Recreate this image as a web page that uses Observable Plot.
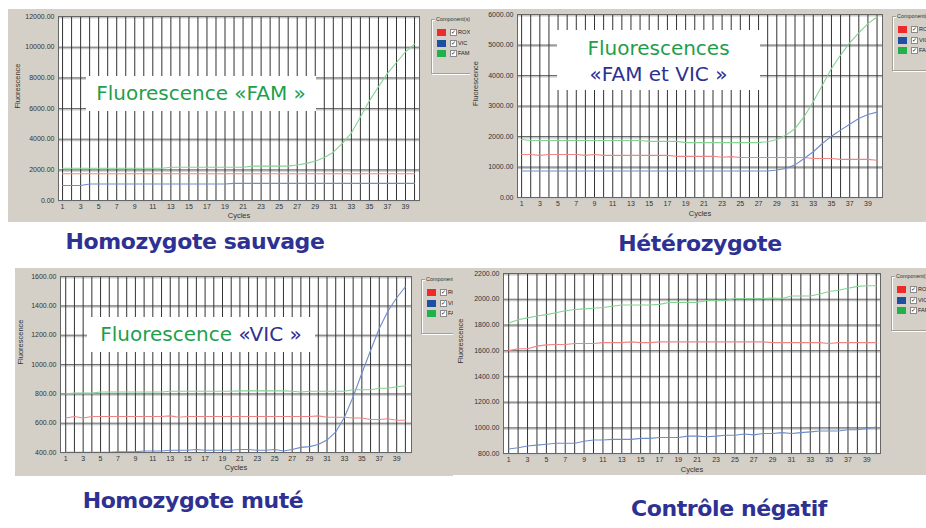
<!DOCTYPE html>
<html>
<head>
<meta charset="utf-8">
<script src="https://cdn.jsdelivr.net/npm/d3@7"></script>
<script src="https://cdn.jsdelivr.net/npm/@observablehq/plot@0.6"></script>
<style>
  html, body { margin: 0; padding: 0; background: #ffffff; }
  body { width: 926px; height: 528px; position: relative; overflow: hidden; }
  .panel { position: absolute; background: #d4d0c8; overflow: hidden; }
  .panel svg { position: absolute; left: 0; top: 0; }
  .legend { position: absolute; width: 54px; height: 53px; border: 1px solid #a3a09a;
            box-shadow: inset 1px 1px 0 #ffffff, 1px 1px 0 #ffffff;
            font-family: "Liberation Sans", Arial, sans-serif; color: #222; }
  .legend .ttl { position: absolute; left: 3px; top: -4px; background: #d4d0c8; padding: 0 1px;
                 font-size: 5.4px; line-height: 7px; white-space: nowrap; color: #333; }
  .legend .row { position: absolute; left: 5px; height: 8px; width: 60px; }
  .legend .sw { position: absolute; left: 0; top: 0; width: 9px; height: 7px; }
  .legend .cb { position: absolute; left: 13px; top: 0; width: 5px; height: 5px; background: #fff;
                border: 1px solid #8a8a8a; font-size: 6px; line-height: 5px; text-align: center; color: #111; }
  .legend .lb { position: absolute; left: 21px; top: 0; font-size: 5.6px; line-height: 7px; white-space: nowrap; }
  .overlay { position: absolute; background: #ffffff; text-align: center;
             font-family: "DejaVu Sans", sans-serif; font-size: 20px; white-space: nowrap; }
  .green { color: #1f9e4b; }
  .blue { color: #2e3192; }
  .caption { position: absolute; font-family: "DejaVu Sans", sans-serif; font-weight: bold;
             font-size: 22px; line-height: 22px; letter-spacing: -0.4px; color: #2e3192;
             white-space: nowrap; transform: translateX(-50%); }
</style>
</head>
<body>
<script>
// ---------- data ----------
const cycles = [1,2,3,4,5,6,7,8,9,10,11,12,13,14,15,16,17,18,19,20,21,22,23,24,25,26,27,28,29,30,31,32,33,34,35,36,37,38,39,40];
const xTicks = [1,3,5,7,9,11,13,15,17,19,21,23,25,27,29,31,33,35,37,39];
const componentNames = ["ROX", "VIC", "FAM"];
const componentSwatches = ["#ee2a2a", "#1f4fa3", "#22b04b"];
const lineColors = { ROX: "#ef8585", VIC: "#6f8dcb", FAM: "#84d393" };

// Panel 1 : Homozygote sauvage
const yTicks1 = [0, 2000, 4000, 6000, 8000, 10000, 12000];
const rox1 = [1740,1740,1740,1740,1740,1740,1740,1740,1740,1740,1740,1740,1740,1740,1740,1740,1740,1740,1740,1740,1740,1740,1740,1740,1740,1740,1740,1740,1740,1740,1740,1740,1740,1740,1740,1740,1740,1740,1740,1740];
const vic1 = [980,980,980,1080,1080,1080,1080,1080,1080,1080,1080,1080,1080,1080,1080,1080,1080,1080,1080,1120,1120,1120,1120,1120,1120,1120,1120,1120,1120,1120,1120,1120,1120,1120,1120,1120,1120,1120,1120,1120];
const fam1 = [2100,2100,2100,2100,2100,2100,2100,2100,2100,2100,2100,2100,2170,2170,2170,2170,2170,2170,2170,2170,2170,2240,2240,2240,2240,2240,2320,2420,2560,2800,3150,3730,4400,5450,6500,7420,8290,9000,9700,10200];

// Panel 2 : Hétérozygote
const yTicks2 = [0, 1000, 2000, 3000, 4000, 5000, 6000];
const rox2 = [1410,1410,1380,1410,1410,1410,1410,1380,1410,1380,1380,1380,1380,1380,1380,1380,1380,1350,1350,1350,1350,1350,1320,1340,1310,1310,1310,1310,1310,1310,1310,1310,1280,1280,1280,1250,1250,1250,1250,1220];
const vic2 = [870,870,870,870,870,870,870,870,870,870,870,870,870,870,870,870,870,870,870,870,870,870,870,870,870,870,870,870,900,950,1070,1280,1500,1770,2010,2210,2400,2590,2720,2800];
const fam2 = [1900,1870,1870,1870,1870,1870,1870,1870,1870,1870,1870,1870,1870,1870,1840,1840,1840,1840,1800,1800,1800,1800,1800,1800,1800,1800,1800,1830,1900,2040,2260,2650,3140,3680,4230,4670,5070,5400,5700,5920];

// Panel 3 : Homozygote muté
const yTicks3 = [400, 600, 800, 1000, 1200, 1400, 1600];
const rox3 = [635,645,635,645,645,645,645,645,645,645,645,645,650,640,645,645,645,645,645,645,645,645,645,645,645,645,645,645,645,650,640,640,640,635,635,625,625,630,620,620];
const vic3 = [402,402,402,402,402,402,405,405,405,410,410,410,415,415,415,420,415,415,415,415,420,420,415,415,420,410,420,435,440,455,485,540,640,780,940,1095,1245,1365,1455,1530];
const fam3 = [800,805,805,805,812,812,812,812,812,812,812,812,818,818,818,818,818,818,818,818,820,820,820,820,820,820,818,812,818,818,818,818,818,828,828,828,838,838,848,855];

// Panel 4 : Contrôle négatif
const yTicks4 = [800, 1000, 1200, 1400, 1600, 1800, 2000, 2200];
const rox4 = [1600,1615,1615,1635,1645,1648,1648,1655,1655,1655,1662,1662,1662,1668,1662,1662,1668,1668,1668,1668,1668,1668,1668,1668,1668,1668,1668,1668,1662,1662,1662,1662,1662,1662,1655,1662,1662,1662,1662,1662];
const vic4 = [835,845,858,865,872,880,880,880,895,905,905,910,910,910,918,918,925,925,925,935,935,930,935,942,942,952,945,955,955,962,955,962,968,975,975,975,985,985,995,1005];
const fam4 = [1815,1840,1855,1870,1880,1895,1910,1920,1925,1930,1935,1945,1955,1955,1955,1955,1960,1975,1975,1975,1975,1990,1990,1990,2005,2005,2005,2005,2010,2005,2025,2025,2025,2040,2060,2070,2085,2100,2105,2105];

// ---------- layout ----------
const panels = [
  { left: 8,   top: 9,   w: 462, h: 213, m: [7, 51, 22, 50], xDomain: [0.55, 40.55], yTicks: yTicks1, series: { ROX: rox1, VIC: vic1, FAM: fam1 }, legend: [423, 10], yLab: -41, xLab: 17 },
  { left: 470, top: 9,   w: 456, h: 213, m: [5, 44, 25, 47], xDomain: [0.55, 40.6],  yTicks: yTicks2, series: { ROX: rox2, VIC: vic2, FAM: fam2 }, legend: [422, 7],  yLab: -42, xLab: 18 },
  { left: 15,  top: 268, w: 438, h: 208, m: [8, 42, 24, 45], xDomain: [0.4, 40.7],   yTicks: yTicks3, series: { ROX: rox3, VIC: vic3, FAM: fam3 }, legend: [406, 11], yLab: -40, xLab: 17 },
  { left: 453, top: 268, w: 473, h: 207, m: [5, 46, 22, 50], xDomain: [0.45, 40.45], yTicks: yTicks4, series: { ROX: rox4, VIC: vic4, FAM: fam4 }, legend: [438, 8],  yLab: -43, xLab: 18 }
];

function makeLegend(x, y) {
  const lg = document.createElement("div");
  lg.className = "legend";
  lg.style.left = x + "px";
  lg.style.top = y + "px";
  const t = document.createElement("div");
  t.className = "ttl";
  t.textContent = "Component(s)";
  lg.appendChild(t);
  componentNames.forEach((name, i) => {
    const r = document.createElement("div");
    r.className = "row";
    r.style.top = (9 + i * 10.7) + "px";
    r.innerHTML = `<span class="sw" style="background:${componentSwatches[i]}"></span><span class="cb">✓</span><span class="lb">${name}</span>`;
    lg.appendChild(r);
  });
  return lg;
}

const font = "'Liberation Sans', Arial, sans-serif";

panels.forEach(p => {
  const div = document.createElement("div");
  div.className = "panel";
  Object.assign(div.style, { left: p.left + "px", top: p.top + "px", width: p.w + "px", height: p.h + "px" });
  const yDomain = [p.yTicks[0], p.yTicks[p.yTicks.length - 1]];
  const lineMarks = componentNames.map(name => {
    const rows = cycles.map((c, i) => ({ cycle: c, value: p.series[name][i] }));
    return Plot.lineY(rows, { x: "cycle", y: "value", stroke: lineColors[name], strokeWidth: 1.1 });
  });
  const chart = Plot.plot({
    width: p.w,
    height: p.h,
    marginTop: p.m[0], marginRight: p.m[1], marginBottom: p.m[2], marginLeft: p.m[3],
    style: { background: "transparent", fontFamily: font, fontSize: "7px", color: "#333" },
    x: { domain: p.xDomain },
    y: { domain: yDomain },
    marks: [
      Plot.frame({ fill: "#ffffff", stroke: null }),
      Plot.ruleY(p.yTicks, { stroke: "#c8c8c8", strokeWidth: 2, dy: 1 }),
      Plot.ruleY(p.yTicks, { stroke: "#6e6e6e", strokeWidth: 1 }),
      Plot.ruleX(cycles, { stroke: "#333333", strokeWidth: 1 }),
      ...lineMarks,
      Plot.frame({ stroke: "#666666" }),
      Plot.axisX({ ticks: xTicks, tickFormat: d => String(d), tickSize: 0, tickPadding: 4, label: null, fontSize: 7, fill: "#333" }),
      Plot.axisY({ ticks: p.yTicks, tickFormat: d => d.toFixed(2), tickSize: 0, tickPadding: 4, label: null, fontSize: 7, fill: "#333" }),
      Plot.text(["Fluorescence"], { text: d => d, frameAnchor: "left", rotate: -90, dx: p.yLab, fontSize: 7.5, fill: "#333" }),
      Plot.text(["Cycles"], { text: d => d, frameAnchor: "bottom", dy: p.xLab, fontSize: 7.5, fill: "#333" })
    ]
  });
  div.appendChild(chart);
  div.appendChild(makeLegend(p.legend[0], p.legend[1]));
  document.body.appendChild(div);
});

// ---------- overlays ----------
function addOverlay(left, top, w, h, html, lineHeight) {
  const o = document.createElement("div");
  o.className = "overlay";
  Object.assign(o.style, { left: left + "px", top: top + "px", width: w + "px", height: h + "px", lineHeight: lineHeight + "px" });
  o.innerHTML = html;
  document.body.appendChild(o);
}
addOverlay(86, 76, 230, 35, '<span class="green">Fluorescence «FAM »</span>', 35);
addOverlay(557, 30, 203, 60, '<div class="green" style="margin-top:5px">Fluorescences</div><div class="blue">«FAM et VIC »</div>', 26);
addOverlay(87, 317, 228, 35, '<span class="green">Fluorescence </span><span class="blue">«VIC »</span>', 35);

// ---------- captions ----------
const captions = [
  { text: "Homozygote sauvage", cx: 195, top: 231 },
  { text: "Hétérozygote", cx: 700, top: 233 },
  { text: "Homozygote muté", cx: 193, top: 490 },
  { text: "Contrôle négatif", cx: 729, top: 498 }
];
captions.forEach(c => {
  const d = document.createElement("div");
  d.className = "caption";
  d.style.left = c.cx + "px";
  d.style.top = c.top + "px";
  d.textContent = c.text;
  document.body.appendChild(d);
});
</script>
</body>
</html>
